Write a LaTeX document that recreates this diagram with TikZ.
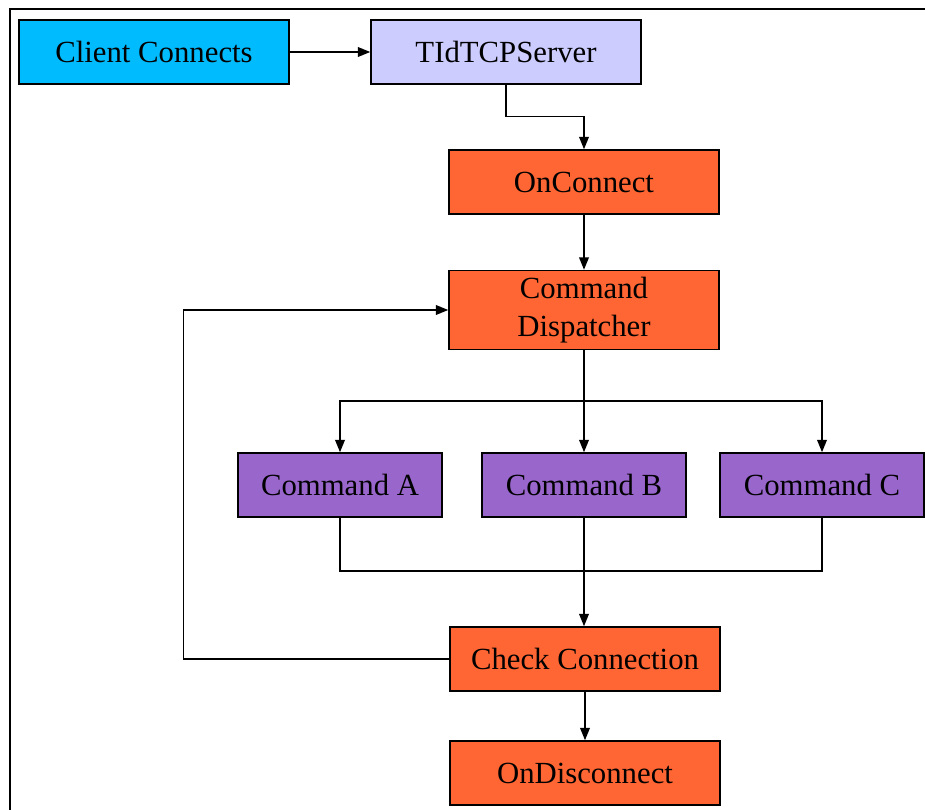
\documentclass[tikz,border=0pt]{standalone}
\usepackage{fontspec}
\setmainfont{Liberation Serif}
\usepackage{tikz}
\usetikzlibrary{arrows.meta}

\definecolor{skyfill}{RGB}{0,188,255}
\definecolor{lavfill}{RGB}{204,204,255}
\definecolor{orangefill}{RGB}{255,102,51}
\definecolor{purplefill}{RGB}{153,102,204}

\begin{document}
\begin{tikzpicture}[x=0.02cm, y=-0.02cm,
    box/.style={draw, line width=0.9pt, inner sep=0pt, align=center,
        font=\fontsize{17.5}{21.5}\selectfont, minimum width=5.4cm, minimum height=1.28cm},
    cmdbox/.style={box, fill=purplefill, minimum width=4.08cm},
    arr/.style={-{Triangle[length=7pt, width=5.5pt]}, line width=0.8pt},
    line/.style={line width=0.8pt}]
\useasboundingbox (0,0) rectangle (925,810);

% frame
\draw[line width=1pt] (10,815) -- (10,9) -- (925,9);

\node[box, fill=skyfill] (client) at (154,52) {Client Connects};
\node[box, fill=lavfill] (server) at (506,52) {TIdTCPServer};
\node[box, fill=orangefill] (onconn) at (584,182) {OnConnect};
\node[box, fill=orangefill, minimum height=1.58cm] (disp) at (584,310) {Command\\Dispatcher};
\node[cmdbox] (cmda) at (340,485) {Command A};
\node[cmdbox] (cmdb) at (584,485) {Command B};
\node[cmdbox] (cmdc) at (822,485) {Command C};
\node[box, fill=orangefill] (check) at (585,659) {Check Connection};
\node[box, fill=orangefill] (ondisc) at (585,773) {OnDisconnect};

\coordinate (split) at (584,401);
\coordinate (merge) at (584,571);

\draw[arr] (client) -- (server);
\draw[arr] (server.south) -- ++(0,32) -| (onconn.north);
\draw[arr] (onconn) -- (disp);

\draw[line] (disp.south) -- (split);
\draw[arr] (split) -| (cmda.north);
\draw[arr] (split) -- (cmdb.north);
\draw[arr] (split) -| (cmdc.north);

\draw[line] (cmda.south) |- (merge);
\draw[line] (cmdc.south) |- (merge);
\draw[arr] (cmdb.south) -- (check.north -| cmdb.south);

\draw[arr] (check.west) -- ++(-266,0) |- (disp.west);
\draw[arr] (check) -- (ondisc);
\end{tikzpicture}
\end{document}
